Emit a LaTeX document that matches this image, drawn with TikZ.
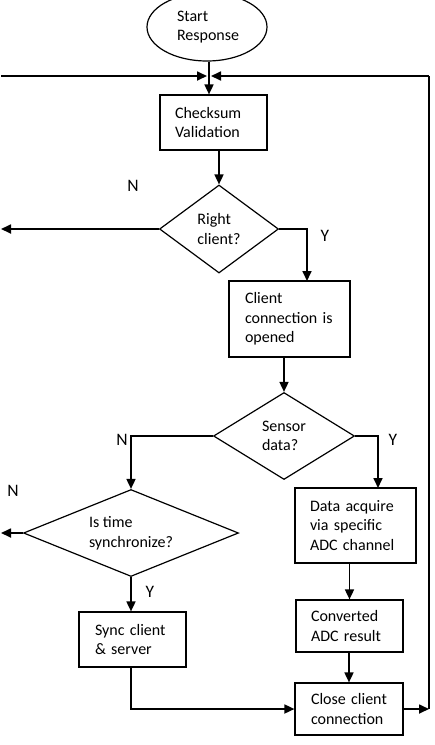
\documentclass[tikz,border=0pt]{standalone}
\usepackage{fontspec}
\setmainfont{Carlito}
\usetikzlibrary{shapes.geometric,arrows.meta}
\tikzset{
  boxnode/.style={draw, line width=1.2pt, rectangle, align=left, inner ysep=0pt, font=\fontsize{16}{19.5}\selectfont},
  decision/.style={draw, line width=1.2pt, diamond, inner sep=0pt, align=left, font=\fontsize{16}{19.5}\selectfont},
  arr/.style={line width=1.7pt, -{Triangle[length=10pt,width=9pt]}},
  plainline/.style={line width=1.7pt},
  yn/.style={font=\fontsize{17.5}{20}\selectfont, inner sep=0pt}
}
\begin{document}
\begin{tikzpicture}[x=1pt,y=-1pt]
\useasboundingbox (0,0) rectangle (435,745);
% start
\node[draw, line width=1.2pt, ellipse, minimum width=120pt, minimum height=68pt, inner sep=0pt, align=left, font=\fontsize{16}{19.5}\selectfont] (st) at (207,27) {\raisebox{-2pt}{\parbox{60pt}{Start\\Response}}};
% boxes
\node[boxnode, inner xsep=15pt, text width=77pt, minimum height=55pt] (chk) at (213.5,122.5) {Checksum\\Validation};
\node[decision, aspect=1.35, minimum width=119pt, minimum height=88pt] (rc) at (219,229) {Right\\client?};
\node[boxnode, inner xsep=16pt, text width=89pt, minimum height=76pt] (cc) at (289.5,319) {Client\\connection is\\opened};
\node[decision, aspect=1.62, minimum width=141pt, minimum height=87pt] (sd) at (284,436) {Sensor\\data?};
\node[decision, aspect=2.47, minimum width=215pt, minimum height=87pt] (it) at (131,533) {Is time\\synchronize?};
\node[boxnode, inner xsep=16pt, text width=75pt, minimum height=55pt] (sy) at (132.5,639.5) {Sync client\\\& server};
\node[boxnode, inner xsep=15pt, text width=91pt, minimum height=75pt] (da) at (355.5,525.5) {Data acquire\\via specific\\ADC channel};
\node[boxnode, inner xsep=15pt, text width=77pt, minimum height=52pt] (cv) at (349.5,626) {Converted\\ADC result};
\node[boxnode, inner xsep=16pt, text width=76pt, minimum height=52pt] (cl) at (349,709) {Close client\\connection};
% coordinates
\coordinate (m) at (209,76);
\coordinate (lft) at (1,76);
\coordinate (rgt) at (429,76);
\coordinate (n1) at (1,229);
\coordinate (n2) at (1,533);
\coordinate (y1) at (307,281);
\coordinate (y2) at (378,488);
\coordinate (rb) at (429,709);
\coordinate (sb) at (131,709);
% connectors
\draw[arr] (m |- st.south) -- (m |- chk.north);
\draw[arr] (lft) -- ([xshift=-2pt]m);
\draw[plainline] (rb) -- (rgt);
\draw[arr] (rgt) -- ([xshift=2pt]m);
\draw[arr] (chk.south -| rc.north) -- (rc.north);
\draw[arr] (rc.west) -- (n1);
\draw[arr] (rc.east) -| (y1);
\draw[arr] (cc.south -| sd.north) -- (sd.north);
\draw[arr] (sd.west) -| (it.north);
\draw[arr] (sd.east) -| (y2);
\draw[arr] (it.west) -- (n2);
\draw[arr] (it.south) -- (it.south |- sy.north);
\draw[arr] (it.south |- sy.south) -- (sb) -- (cl.west);
\draw[arr] (da.south -| cv.north) -- (cv.north);
\draw[arr] (cv.south -| cl.north) -- (cl.north);
\draw[arr] (cl.east) -- (rb);
% labels
\node[yn] (ln1) at (133,186) {N};
\node[yn] (ly1) at (325,236) {Y};
\node[yn] (ln2) at (122,440) {N};
\node[yn] (ly2) at (393,440) {Y};
\node[yn] (ln3) at (13,491) {N};
\node[yn] (ly3) at (150,592) {Y};
\end{tikzpicture}
\end{document}
